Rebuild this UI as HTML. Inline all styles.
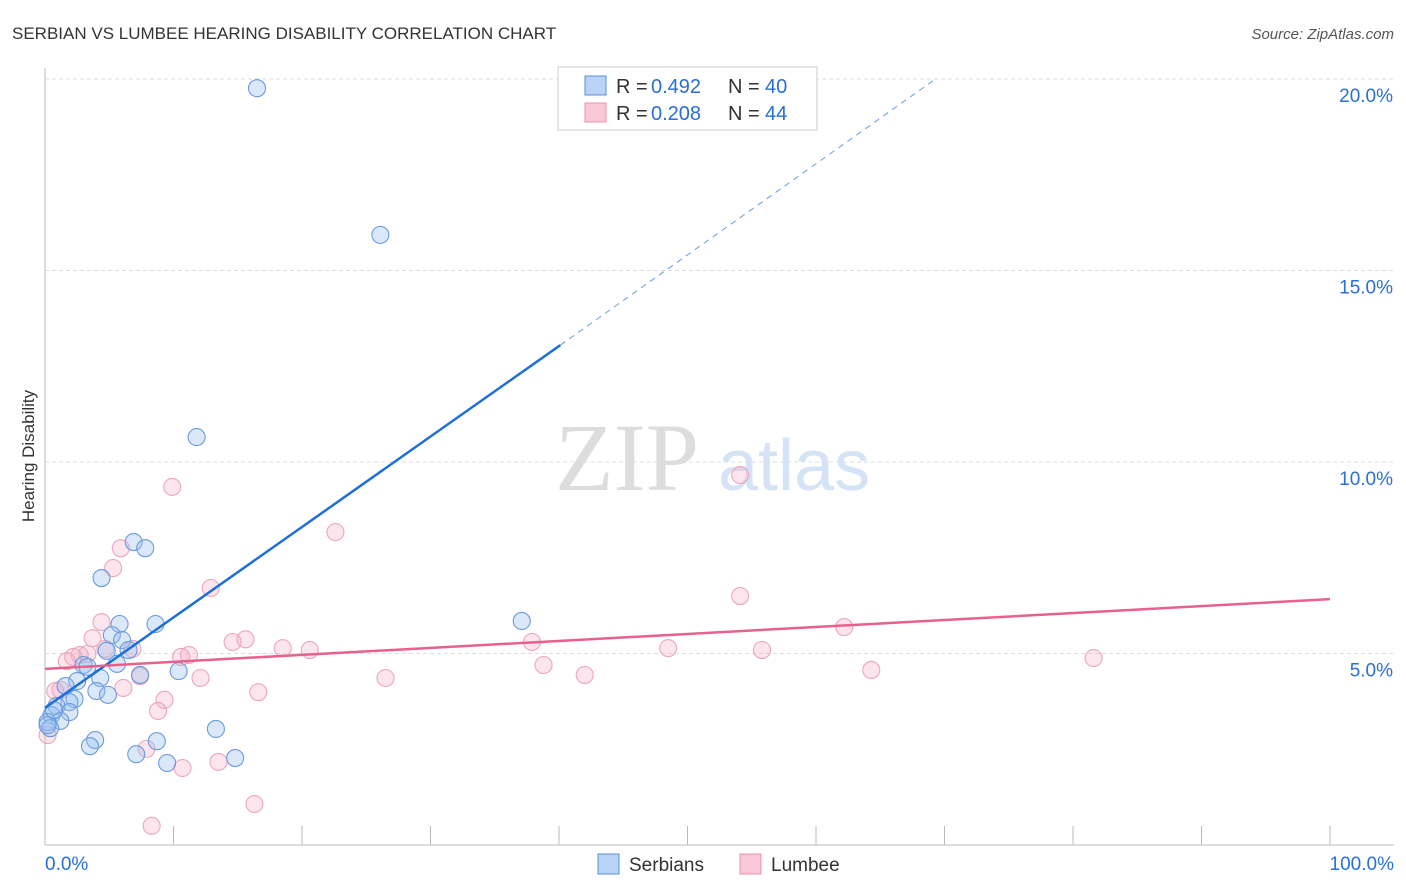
<!DOCTYPE html>
<html><head><meta charset="utf-8"><style>
body{margin:0;background:#fff;font-family:"Liberation Sans",sans-serif}
svg{display:block}
</style></head><body>
<svg id="c" width="1406" height="892">
<text x="12" y="39" font-size="17" fill="#333">SERBIAN VS LUMBEE HEARING DISABILITY CORRELATION CHART</text>
<text x="1394" y="39" font-size="15" fill="#555" text-anchor="end" font-style="italic">Source: ZipAtlas.com</text>
<text x="34" y="456" font-size="17" fill="#333" text-anchor="middle" transform="rotate(-90 34 456)">Hearing Disability</text>
<g><text x="555" y="490" font-size="96" fill="#ddd" font-family="Liberation Serif,serif">ZIP</text><text x="718" y="490" font-size="72" fill="#d4e3f5">atlas</text></g>
<g id="grid"></g><g id="pts"></g><g id="lines"></g>
<g>
<rect x="558" y="67" width="259" height="63" fill="#fff" stroke="#ccc"/>
<rect x="585" y="76" width="21" height="19" fill="#b8d3f5" stroke="#5a8fd6"/>
<text x="616" y="93" font-size="20" fill="#333">R =</text><text x="651" y="93" font-size="20" fill="#2a6fd6">0.492</text>
<text x="728" y="93" font-size="20" fill="#333">N =</text><text x="765" y="93" font-size="20" fill="#2a6fd6">40</text>
<rect x="585" y="103" width="21" height="19" fill="#f8c8d6" stroke="#e890ab"/>
<text x="616" y="120" font-size="20" fill="#333">R =</text><text x="651" y="120" font-size="20" fill="#2a6fd6">0.208</text>
<text x="728" y="120" font-size="20" fill="#333">N =</text><text x="765" y="120" font-size="20" fill="#2a6fd6">44</text>
</g>
<g>
<rect x="598" y="854" width="21" height="20" fill="#b8d3f5" stroke="#5a8fd6"/>
<text x="629" y="871" font-size="19" fill="#333">Serbians</text>
<rect x="740" y="854" width="21" height="20" fill="#f8c8d6" stroke="#e890ab"/>
<text x="771" y="871" font-size="19" fill="#333">Lumbee</text>
</g>
</svg>
<script>
const yTicks=[5,10,15,20];
const xTickLabels=["0.0%","100.0%"];
const serbX=[16.5,26.1,11.8,37.1,6.9,7.8,4.4,8.6,5.8,5.2,6.0,6.5,4.8,5.6,3.0,3.3,10.4,7.4,2.5,4.3,1.6,4.0,4.9,2.3,1.9,0.9,1.9,0.5,1.2,0.2,0.4,13.3,3.9,3.5,8.7,7.1,14.8,9.5,0.2,0.7];
const serbY=[19.76,15.93,10.65,5.85,7.91,7.75,6.97,5.77,5.77,5.48,5.35,5.09,5.07,4.73,4.70,4.65,4.54,4.44,4.28,4.36,4.15,4.02,3.92,3.81,3.73,3.63,3.47,3.39,3.24,3.21,3.05,3.03,2.74,2.58,2.71,2.37,2.27,2.14,3.13,3.52];
const lumX=[54.1,9.9,22.6,5.9,5.3,12.9,54.1,4.4,3.7,62.2,37.9,3.3,15.6,14.6,11.2,10.6,18.5,20.6,48.5,55.8,6.8,2.7,2.2,1.7,81.6,38.8,64.3,12.1,26.5,42.0,7.4,0.8,1.2,6.1,16.6,9.3,8.8,7.9,13.5,10.7,16.3,8.3,0.2,4.7];
const lumY=[9.66,9.35,8.17,7.75,7.23,6.71,6.50,5.82,5.40,5.69,5.30,4.99,5.37,5.30,4.96,4.91,5.14,5.09,5.14,5.09,5.12,4.96,4.91,4.80,4.88,4.70,4.57,4.36,4.36,4.44,4.41,4.02,4.05,4.10,3.99,3.79,3.50,2.51,2.17,2.01,1.07,0.50,2.87,5.12];
const serbFit=[3.58,13.05,20.0], serbFitX=[0,40.1,69.3];
const lumFit=[4.6,6.42];
const NS="http://www.w3.org/2000/svg";
const X=v=>45+v*12.85, Y=v=>845-v*38.3;
function mk(t,a,p){const e=document.createElementNS(NS,t);for(const k in a)e.setAttribute(k,a[k]);p.appendChild(e);return e;}
const g=document.getElementById('grid');
mk('line',{x1:45,y1:68,x2:45,y2:845,stroke:'#bbb'},g);
mk('line',{x1:45,y1:845,x2:1394,y2:845,stroke:'#bbb'},g);
yTicks.forEach(t=>{const l=mk('line',{x1:45,y1:Y(t),x2:1394,y2:Y(t),stroke:'#ddd','stroke-dasharray':'4,3'},g);


const tx=mk('text',{x:1393,y:Y(t)+23,'font-size':19,fill:'#2a6fd6','text-anchor':'end'},g);tx.textContent=t.toFixed(1)+'%';

});
for(let i=1;i<=10;i++){mk('line',{x1:X(i*10),y1:845,x2:X(i*10),y2:826,stroke:'#bbb'},g);}
xTickLabels.forEach((s,i)=>{const tx=mk('text',{x:i?1394:45,y:870,'font-size':19,fill:'#2a6fd6','text-anchor':i?'end':'start'},g);tx.textContent=s;

});
const p=document.getElementById('pts');
lumX.forEach((x,i)=>{const c=mk('circle',{cx:X(x),cy:Y(lumY[i]),r:8.5,fill:'rgba(244,170,195,0.3)',stroke:'#eba6bd','stroke-width':1.1},p);

});
serbX.forEach((x,i)=>{const c=mk('circle',{cx:X(x),cy:Y(serbY[i]),r:8.5,fill:'rgba(150,190,240,0.35)',stroke:'#6a9ade','stroke-width':1.1},p);

});
const L=document.getElementById('lines');
let a=mk('line',{x1:X(0),y1:Y(serbFit[0]),x2:X(serbFitX[1]),y2:Y(serbFit[1]),stroke:'#1f6fd8','stroke-width':2.5},L);


a=mk('line',{x1:X(serbFitX[1]),y1:Y(serbFit[1]),x2:X(serbFitX[2]),y2:Y(serbFit[2]),stroke:'#6a9ae0','stroke-width':1,'stroke-dasharray':'6,5'},L);


a=mk('line',{x1:X(0),y1:Y(lumFit[0]),x2:X(100),y2:Y(lumFit[1]),stroke:'#e8608c','stroke-width':2.5},L);


</script>
</body></html>
